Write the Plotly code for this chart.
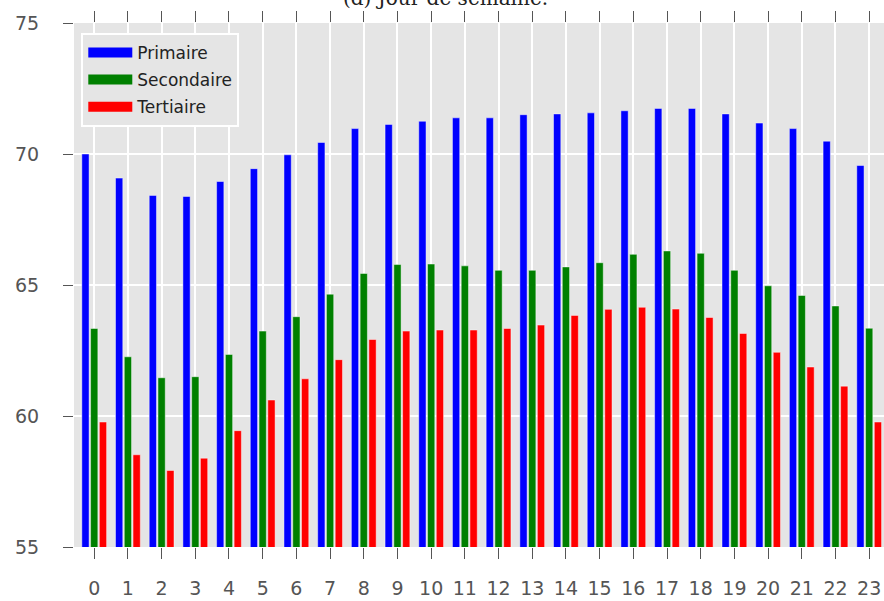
import plotly.graph_objects as go

hours = list(range(24))
primaire = [70.00, 69.08, 68.42, 68.38, 68.95, 69.44, 69.97, 70.44, 70.97, 71.13, 71.25, 71.38,
            71.38, 71.50, 71.53, 71.57, 71.65, 71.74, 71.74, 71.53, 71.18, 70.97, 70.49, 69.56]
secondaire = [63.34, 62.26, 61.46, 61.50, 62.35, 63.24, 63.79, 64.65, 65.44, 65.78, 65.80, 65.73,
              65.56, 65.56, 65.69, 65.85, 66.17, 66.30, 66.21, 65.56, 64.97, 64.60, 64.20, 63.35]
tertiaire = [59.77, 58.52, 57.92, 58.39, 59.44, 60.61, 61.42, 62.15, 62.92, 63.24, 63.28, 63.28,
             63.34, 63.47, 63.84, 64.07, 64.15, 64.08, 63.76, 63.15, 62.43, 61.87, 61.14, 59.77]

series = [
    ("Primaire", primaire, "#0000FF"),
    ("Secondaire", secondaire, "#008000"),
    ("Tertiaire", tertiaire, "#FF0000"),
]
tick_font = dict(family="DejaVu Sans", size=19, color="#555555")

fig = go.Figure()
for name, values, color in series:
    fig.add_trace(
        go.Bar(
            x=hours,
            y=values,
            name=name,
            marker=dict(color=color, line=dict(color="rgba(255,255,255,0.45)", width=1)),
            showlegend=False,
        )
    )
# legend entries drawn as wide swatches (matplotlib style)
for i, (name, values, color) in enumerate(series):
    fig.add_trace(
        go.Scatter(
            x=[None],
            y=[None],
            mode="lines",
            name=name,
            line=dict(color=color, width=11),
            legendgroup=f"g{i}",
        )
    )

fig.update_layout(
    width=884,
    height=601,
    margin=dict(l=74, r=0, t=23, b=54, autoexpand=False),
    paper_bgcolor="white",
    plot_bgcolor="#E5E5E5",
    barmode="group",
    bargap=0.22,
    bargroupgap=0.17,
    font=dict(family="DejaVu Sans", color="#222222"),
    legend=dict(
        x=0.009,
        y=0.981,
        xanchor="left",
        yanchor="top",
        bgcolor="#E5E5E5",
        bordercolor="white",
        borderwidth=2,
        font=dict(family="DejaVu Sans", size=17, color="#222222"),
        tracegroupgap=2,
        itemwidth=44,
    ),
    xaxis=dict(
        range=[-0.6, 23.44],
        tickmode="array",
        tickvals=hours,
        ticktext=[str(h) for h in hours],
        showgrid=True,
        gridcolor="white",
        gridwidth=2,
        zeroline=False,
        showline=True,
        linecolor="white",
        linewidth=1,
        mirror="ticks",
        ticks="outside",
        ticklen=11,
        tickwidth=1,
        tickcolor="#555555",
        ticklabelstandoff=13,
        tickfont=tick_font,
        automargin=False,
    ),
    yaxis=dict(
        range=[55, 75],
        tickvals=[55, 60, 65, 70, 75],
        showgrid=True,
        gridcolor="white",
        gridwidth=2,
        zeroline=False,
        showline=True,
        linecolor="white",
        linewidth=1,
        ticks="outside",
        ticklen=10,
        tickwidth=1,
        tickcolor="#555555",
        ticklabelstandoff=20,
        tickfont=tick_font,
        automargin=False,
    ),
    annotations=[
        dict(
            text="(d) Jour de semaine.",
            xref="paper",
            yref="paper",
            x=(445 - 74) / 810,
            y=1,
            xanchor="center",
            yanchor="bottom",
            yshift=11,
            showarrow=False,
            font=dict(family="DejaVu Serif", size=20, color="#222222"),
        )
    ],
)

fig.write_html(
    "out.html",
    config={"displayModeBar": False},
    post_script="document.body.style.margin = '0';",
)
